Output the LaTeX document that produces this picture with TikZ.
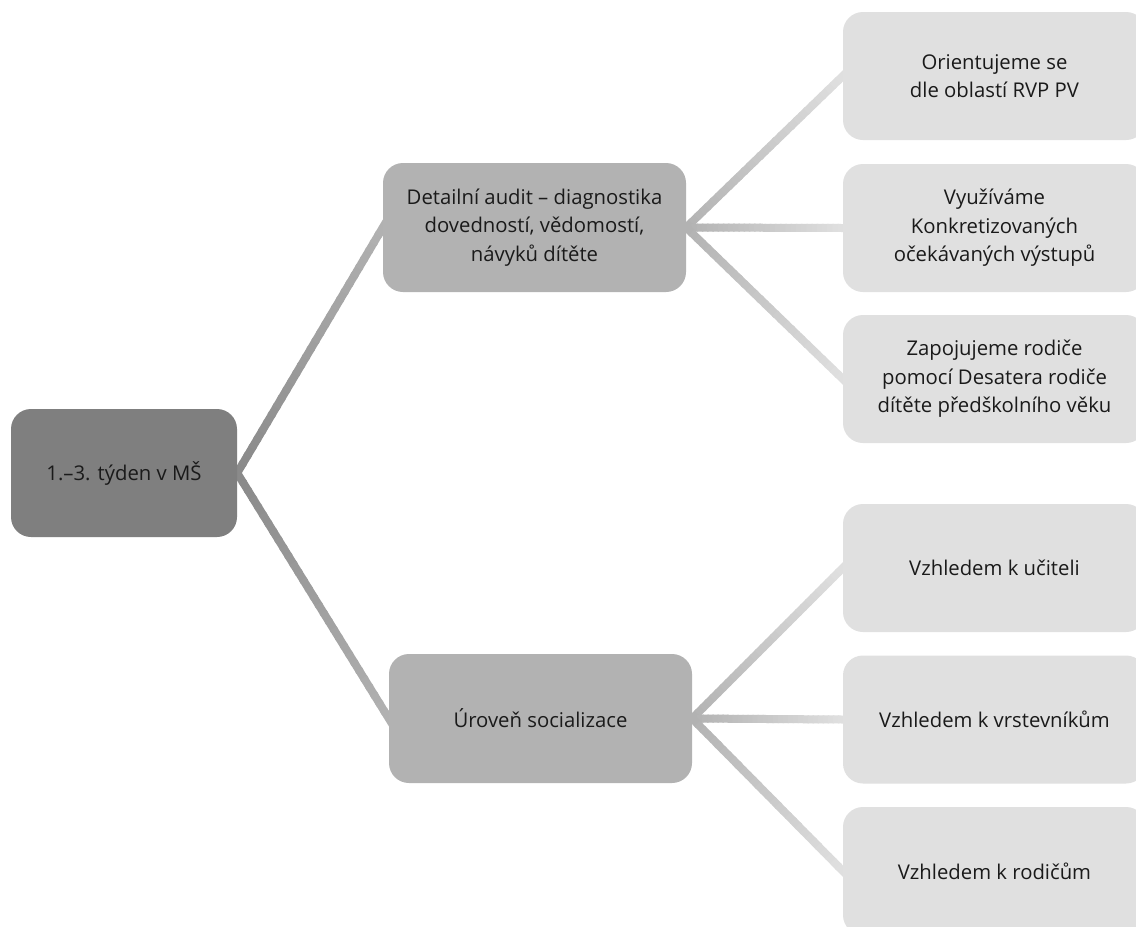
\documentclass[tikz,border=0pt]{standalone}
\usepackage{fontspec}
\setmainfont{Open Sans}
\usetikzlibrary{calc}
\pgfdeclarelayer{bg}
\pgfsetlayers{bg,main}
\definecolor{cRoot}{HTML}{7F7F7F}
\definecolor{cMid}{HTML}{B2B2B2}
\definecolor{cLeaf}{HTML}{E0E0E0}
\definecolor{cText}{HTML}{1A1A1A}
\tikzset{
  box/.style={rounded corners=20pt, inner sep=0pt, align=center, text=cText,
    font=\fontsize{20.3}{28.5}\selectfont},
  rootbox/.style={box, fill=cRoot, minimum width=226pt, minimum height=128pt},
  midbox/.style={box, fill=cMid, minimum width=303pt, minimum height=129pt},
  leafbox/.style={box, fill=cLeaf, minimum width=303pt, minimum height=128pt},
  linkline/.style={line width=8pt, line cap=butt},
}
\newcommand{\gradlink}[4]{%
  \begin{pgfonlayer}{bg}
  \foreach \i in {0,...,29}{
    \pgfmathsetmacro{\ga}{ifthenelse(\i==0,-0.04,\i/30)}
    \pgfmathsetmacro{\gb}{ifthenelse(\i==29,1.04,(\i+1)/30+0.01)}
    \pgfmathtruncatemacro{\gp}{100*(\i+0.5)/30}
    \draw[linkline, color=#4!\gp!#3] ($(#1)!\ga!(#2)$) -- ($(#1)!\gb!(#2)$);
  }
  \end{pgfonlayer}}
\begin{document}
\begin{tikzpicture}[x=1pt, y=-1pt]
\useasboundingbox (0,0) rectangle (1136,927);
\begin{pgfonlayer}{bg}
\fill[white] (0,0) rectangle (1136,927);
\end{pgfonlayer}
\clip (0,0) rectangle (1136,927);

\node[rootbox] (root) at (124,473) {1.–3. týden v MŠ};

\node[midbox] (audit) at (534.5,227.5) {Detailní audit – diagnostika\\dovedností, vědomostí,\\návyků dítěte};
\node[midbox] (soc) at (540.5,718.5) {Úroveň socializace};

\node[leafbox] (l1) at (994.5,76) {Orientujeme se\\dle oblastí RVP PV};
\node[leafbox] (l2) at (994.5,228) {Využíváme\\Konkretizovaných\\očekávaných výstupů};
\node[leafbox] (l3) at (994.5,379) {Zapojujeme rodiče\\pomocí Desatera rodiče\\dítěte předškolního věku};
\node[leafbox] (l4) at (994.5,568) {Vzhledem k učiteli};
\node[leafbox] (l5) at (994.5,719.5) {Vzhledem k vrstevníkům};
\node[leafbox] (l6) at (994.5,871) {Vzhledem k rodičům};

\gradlink{root.east}{audit.west}{cRoot!80!cMid}{cMid}
\gradlink{root.east}{soc.west}{cRoot!80!cMid}{cMid}
\gradlink{audit.east}{l1.west}{cMid}{cLeaf}
\gradlink{audit.east}{l2.west}{cMid}{cLeaf}
\gradlink{audit.east}{l3.west}{cMid}{cLeaf}
\gradlink{soc.east}{l4.west}{cMid}{cLeaf}
\gradlink{soc.east}{l5.west}{cMid}{cLeaf}
\gradlink{soc.east}{l6.west}{cMid}{cLeaf}
\end{tikzpicture}
\end{document}
